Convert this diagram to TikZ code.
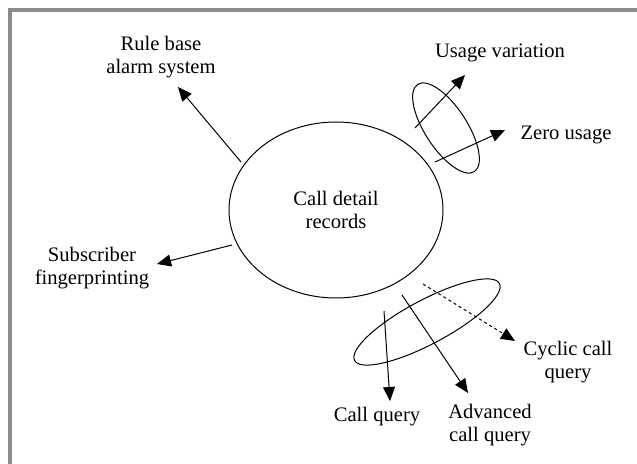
\documentclass[tikz,border=0pt]{standalone}
\usepackage{fontspec}
\setmainfont{Liberation Serif}
\usetikzlibrary{arrows.meta,shapes.geometric}
\definecolor{framegray}{HTML}{8C8C8C}
\begin{document}
\begin{tikzpicture}[x=0.5pt,y=0.5pt,
  lbl/.style={align=center,inner sep=0pt,font=\fontsize{10.3}{11.5}\selectfont},
  arr/.style={line width=0.5pt,-{Triangle[length=7pt,width=6pt]}},
  dotarr/.style={arr,dash pattern=on 1.5pt off 1.5pt},
  group/.style={line width=0.5pt}]
\useasboundingbox (0,0) rectangle (637,-464);
% frame on the top and left side
\fill[framegray] (8,-8) rectangle (637,-12);
\fill[framegray] (8,-8) rectangle (12,-464);

% central record store
\node[ellipse,draw,line width=0.5pt,minimum width=107pt,minimum height=88pt,
      inner sep=0pt,lbl] (cdr) at (336,-210) {Call detail\\records};

% surrounding outputs
\node[lbl] (rule) at (161,-57) {Rule base\\alarm system};
\node[lbl] (fing) at (92,-268) {Subscriber\\fingerprinting};
\node[lbl] (uvar) at (500,-53) {Usage variation};
\node[lbl] (zero) at (566,-135) {Zero usage};
\node[lbl] (cq) at (377,-417) {Call query};
\node[lbl] (acq) at (490,-425) {Advanced\\call query};
\node[lbl] (ccq) at (568,-362) {Cyclic call\\query};

% grouping rings
\draw[group,rotate around={-57:(446,-128)}] (446,-128) ellipse [x radius=26pt,y radius=10.5pt];
\draw[group,rotate around={28:(427,-322)}] (427,-322) ellipse [x radius=41pt,y radius=11pt];

% arrow end points
\coordinate (rule-s) at (241,-162);  \coordinate (rule-e) at (178,-87);
\coordinate (fing-s) at (232,-245);  \coordinate (fing-e) at (157,-264);
\coordinate (uvar-s) at (415,-128);  \coordinate (uvar-e) at (465,-75);
\coordinate (zero-s) at (435,-162);  \coordinate (zero-e) at (505,-130);
\coordinate (cq-s) at (384,-311);    \coordinate (cq-e) at (390,-401);
\coordinate (acq-s) at (402,-295);   \coordinate (acq-e) at (468,-393);
\coordinate (ccq-s) at (423,-284);   \coordinate (ccq-e) at (515,-341);

\draw[arr] (rule-s) -- (rule-e);
\draw[arr] (fing-s) -- (fing-e);
\draw[arr] (uvar-s) -- (uvar-e);
\draw[arr] (zero-s) -- (zero-e);
\draw[arr] (cq-s) -- (cq-e);
\draw[arr] (acq-s) -- (acq-e);
\draw[dotarr] (ccq-s) -- (ccq-e);
\end{tikzpicture}
\end{document}
